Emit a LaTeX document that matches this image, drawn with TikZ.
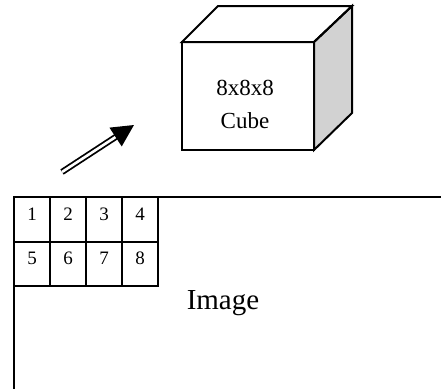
\documentclass[tikz,border=0pt]{standalone}
\usepackage{fontspec}
\setmainfont{Liberation Serif}
\usetikzlibrary{arrows.meta}

\tikzset{
  edge/.style={line width=2pt, line join=miter},
  numtxt/.style={font=\fontsize{19}{19}\selectfont, inner sep=0pt},
  cubetxt/.style={font=\fontsize{23}{33}\selectfont, align=center, inner sep=0pt}
}

\begin{document}
\begin{tikzpicture}[x=1pt,y=-1pt]
 \useasboundingbox (0,0) rectangle (441,389);
 % cube
 \coordinate (P1) at (182,42); %front top left
 \coordinate (P2) at (314,42); %front top right
 \coordinate (P3) at (314,150); %front bottom right
 \coordinate (P4) at (182,150); %front bottom left
 \coordinate (Q1) at (218,6);
 \coordinate (Q2) at (352,6);
 \coordinate (Q3) at (352,113);
 \filldraw[edge, fill=gray!35] (P2)--(Q2)--(Q3)--(P3)--cycle; %right face
 \draw[edge] (P1)--(Q1)--(Q2)--(P2)--cycle; %top face
 \draw[edge] (P1)--(P2)--(P3)--(P4)--cycle; %front face
 \node[cubetxt] (cube) at (245,104) {8x8x8\\Cube};

 % arrow
 \coordinate (A1) at (62,172);
 \coordinate (A2) at (134,125);
 \draw[line width=1.8pt, double, double distance=2.6pt, -{Triangle[length=22pt,width=22pt]}] (A1)--(A2);

 % image
 \coordinate (I0) at (14,197);
 \draw[edge] (I0)--(441,197);
 \draw[edge] (I0)--(14,389);
 \foreach \r in {0,1}{
  \foreach \c in {0,1,2,3}{
   \pgfmathtruncatemacro{\k}{4*\r+\c+1}
   \draw[edge] ({14+36*\c},{197+44.5*\r}) rectangle ++(36,44.5);
   \node[numtxt] (n\k) at ({32+36*\c},{214+44.5*\r}) {\k};
  }
 }
 \node[font=\fontsize{29}{29}\selectfont, inner sep=0pt] (img) at (223,303) {Image};
\end{tikzpicture}
\end{document}
